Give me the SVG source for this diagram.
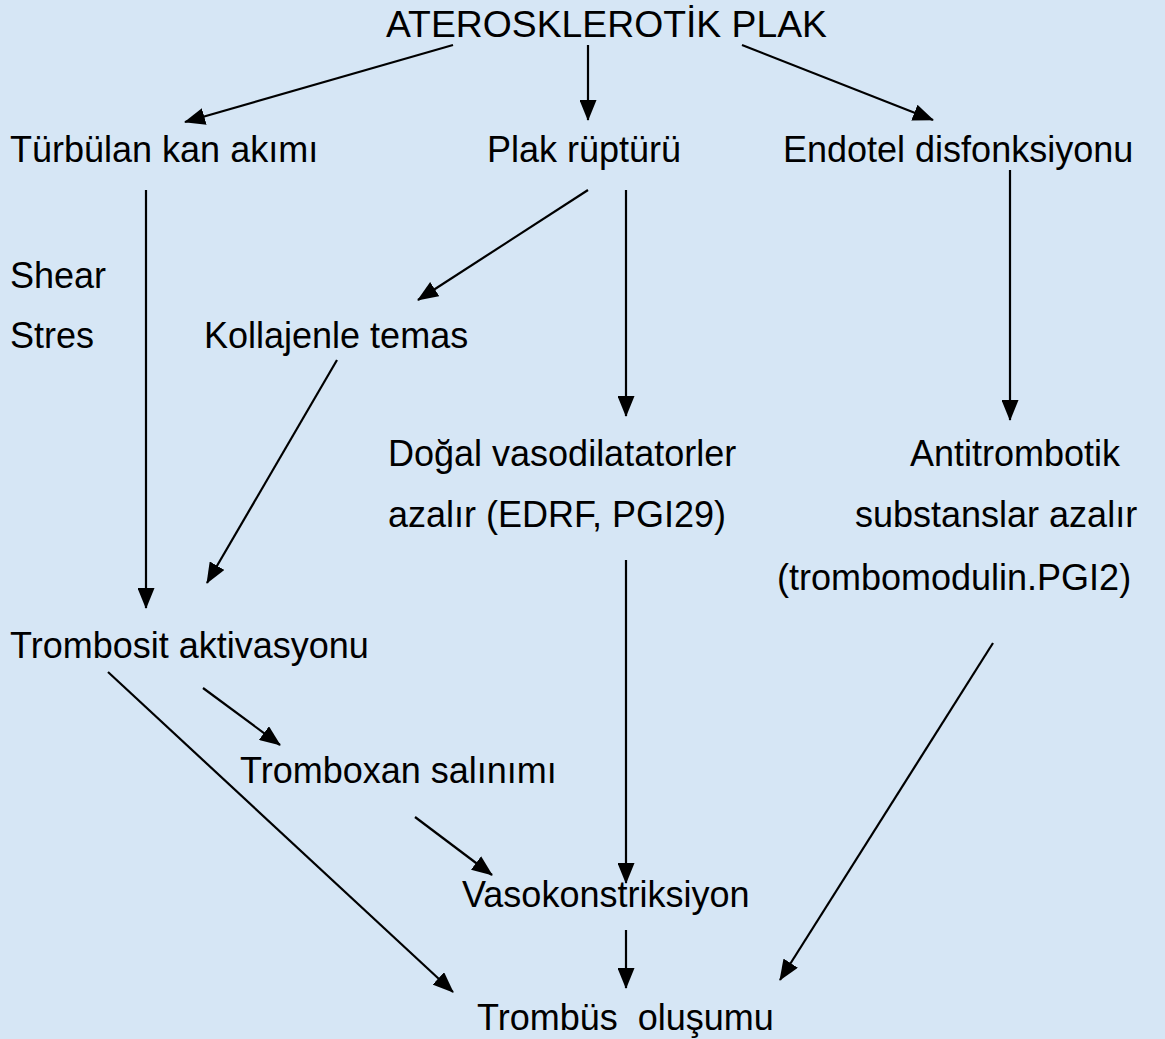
<svg xmlns="http://www.w3.org/2000/svg" width="1165" height="1039" viewBox="0 0 1165 1039">
<style>
text{font-family:"Liberation Sans",Arial,sans-serif;font-size:36px;fill:#000}
.c line{stroke:#000;stroke-width:2.2;marker-end:url(#ah)}
</style>
<defs>
<marker id="ah" markerUnits="userSpaceOnUse" markerWidth="21" markerHeight="17" refX="20" refY="8.5" orient="auto">
<path d="M0,0 L21,8.5 L0,17 Z" fill="#000"/>
</marker>
</defs>
<rect width="1165" height="1039" fill="#d6e6f5"/>
<g id="n_plak_root"><text x="386" y="37" textLength="441" lengthAdjust="spacingAndGlyphs">ATEROSKLEROTİK PLAK</text></g>
<g id="n_turbulan"><text x="10" y="162">Türbülan kan akımı</text></g>
<g id="n_rupture"><text x="487" y="162">Plak rüptürü</text></g>
<g id="n_endotel"><text x="783" y="162">Endotel disfonksiyonu</text></g>
<g id="n_shear"><text x="10" y="288">Shear</text><text x="10" y="348">Stres</text></g>
<g id="n_kollajen"><text x="204" y="348">Kollajenle temas</text></g>
<g id="n_dogal"><text x="388" y="466">Doğal vasodilatatorler</text><text x="388" y="527">azalır (EDRF, PGI29)</text></g>
<g id="n_antitrombotik"><text x="910" y="466">Antitrombotik</text><text x="855" y="527">substanslar azalır</text><text x="777" y="590">(trombomodulin.PGI2)</text></g>
<g id="n_trombosit"><text x="10" y="658">Trombosit aktivasyonu</text></g>
<g id="n_tromboxan"><text x="240" y="783">Tromboxan salınımı</text></g>
<g id="n_vasokon"><text x="462" y="907">Vasokonstriksiyon</text></g>
<g id="n_trombus"><text x="477" y="1030" xml:space="preserve">Trombüs  oluşumu</text></g>
<g class="c" id="connectors">
<line x1="453" y1="45" x2="185" y2="122"/>
<line x1="588" y1="45" x2="588" y2="120"/>
<line x1="742" y1="45" x2="933" y2="120"/>
<line x1="146" y1="190" x2="146" y2="608"/>
<line x1="588" y1="190" x2="418" y2="300"/>
<line x1="626" y1="190" x2="626" y2="416"/>
<line x1="1010" y1="170" x2="1010" y2="420"/>
<line x1="337" y1="360" x2="207" y2="583"/>
<line x1="626" y1="560" x2="626" y2="883"/>
<line x1="993" y1="643" x2="780" y2="980"/>
<line x1="203" y1="688" x2="280" y2="745"/>
<line x1="108" y1="672" x2="453" y2="992"/>
<line x1="415" y1="817" x2="492" y2="875"/>
<line x1="626" y1="930" x2="626" y2="988"/>
</g>
</svg>
